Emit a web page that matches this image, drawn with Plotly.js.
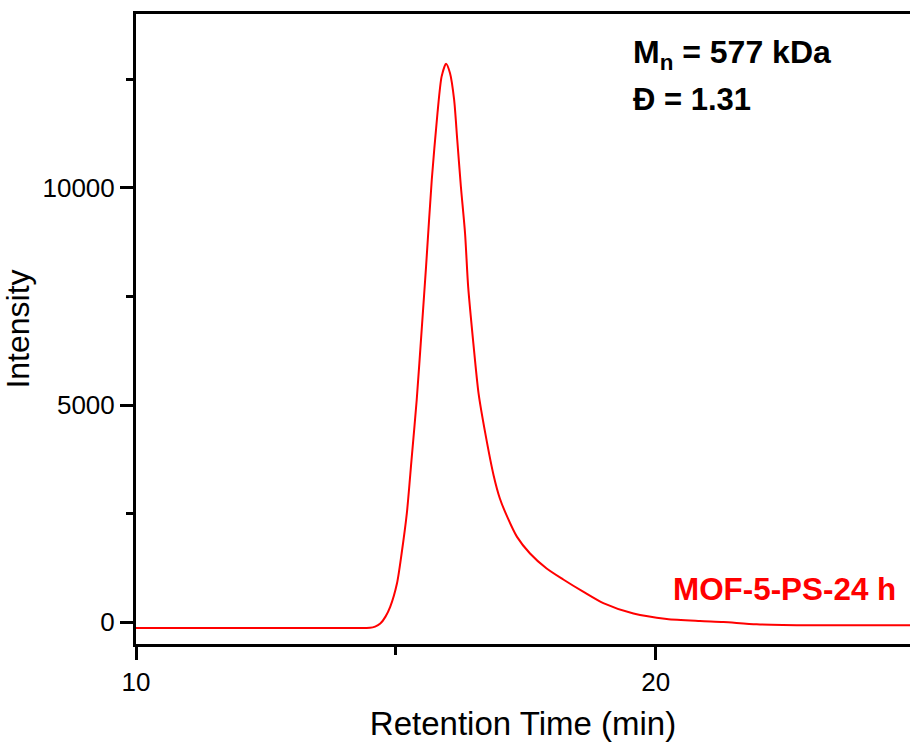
<!DOCTYPE html>
<html>
<head>
<meta charset="utf-8">
<script src="https://cdn.plot.ly/plotly-3.0.1.min.js"></script>
<style>
html,body{margin:0;padding:0;background:#fff;overflow:hidden;}
#chart{width:910px;height:742px;}
</style>
</head>
<body>
<div id="chart"></div>
<script>
const retentionTime = [10.0, 14.0, 14.50, 14.60, 14.70, 14.80, 14.89, 15.02, 15.11, 15.21, 15.30, 15.40, 15.50, 15.58, 15.69, 15.80, 15.88, 15.965, 16.04, 16.12, 16.18, 16.25, 16.33, 16.39, 16.49, 16.59, 16.72, 16.88, 17.00, 17.13, 17.33, 17.58, 17.90, 18.22, 18.61, 18.99, 19.57, 20.21, 20.85, 21.30, 21.94, 23.03, 24.89];
const intensity = [-131, -131, -128, -100, -30, 130, 353, 891, 1583, 2504, 3733, 5115, 6804, 8186, 10184, 11721, 12564, 12856, 12642, 12027, 11105, 10030, 8955, 7725, 6421, 5269, 4348, 3380, 2850, 2460, 1966, 1583, 1237, 984, 698, 440, 200, 76, 30, 8, -46, -69, -69];
const seriesName = "MOF-5-PS-24 h";
const xTitle = "Retention Time (min)";
const yTitle = "Intensity";
const noteLine1 = "M<sub>n</sub> = 577 kDa";
const noteLine2 = "Đ = 1.31";

const font = "Liberation Sans, Arial, sans-serif";

const trace = {
  x: retentionTime, y: intensity, type: "scatter", mode: "lines",
  name: seriesName,
  line: {color: "#ff0000", width: 2, shape: "spline", smoothing: 0.7}
};

const layout = {
  width: 910, height: 742,
  margin: {l: 136, r: 0, t: 14, b: 98},
  paper_bgcolor: "#fff", plot_bgcolor: "#fff",
  showlegend: false,
  font: {family: font, color: "#000", size: 26},
  xaxis: {
    range: [10, 24.89], tickvals: [10, 20], ticktext: ["10", "20"],
    showgrid: false, zeroline: false,
    showline: true, linecolor: "#000", linewidth: 3, mirror: true,
    ticks: "outside", ticklen: 13, tickwidth: 3, tickcolor: "#000",
    minor: {tickvals: [15], ticks: "outside", ticklen: 8, tickwidth: 3, tickcolor: "#000"},
    tickfont: {family: font, size: 26, color: "#000"},
    title: {text: xTitle, font: {family: font, size: 33, color: "#000"}, standoff: 17}
  },
  yaxis: {
    range: [-500, 14000], tickvals: [0, 5000, 10000], ticktext: ["0", "5000", "10000"],
    showgrid: false, zeroline: false, automargin: true,
    showline: true, linecolor: "#000", linewidth: 3, mirror: false,
    ticks: "outside", ticklen: 13, tickwidth: 3, tickcolor: "#000",
    minor: {tickvals: [2500, 7500, 12500], ticks: "outside", ticklen: 7, tickwidth: 3, tickcolor: "#000"},
    tickfont: {family: font, size: 26, color: "#000"},
    title: {text: yTitle, font: {family: font, size: 32, color: "#000"}, standoff: 7}
  },
  annotations: [
    {xref: "paper", yref: "paper", x: 0.639, y: 0.936, xanchor: "left", yanchor: "middle",
     text: "<b>" + noteLine1 + "</b>", showarrow: false, font: {family: font, size: 32, color: "#000"}},
    {xref: "paper", yref: "paper", x: 0.639, y: 0.865, xanchor: "left", yanchor: "middle",
     text: "<b>" + noteLine2 + "</b>", showarrow: false, font: {family: font, size: 31, color: "#000"}},
    {xref: "paper", yref: "paper", x: 0.985, y: 0.087, xanchor: "right", yanchor: "middle",
     text: "<b>" + seriesName + "</b>", showarrow: false, font: {family: font, size: 31.4, color: "#ff0000"}}
  ]
};

Plotly.newPlot("chart", [trace], layout, {displayModeBar: false, staticPlot: true});
</script>
</body>
</html>
